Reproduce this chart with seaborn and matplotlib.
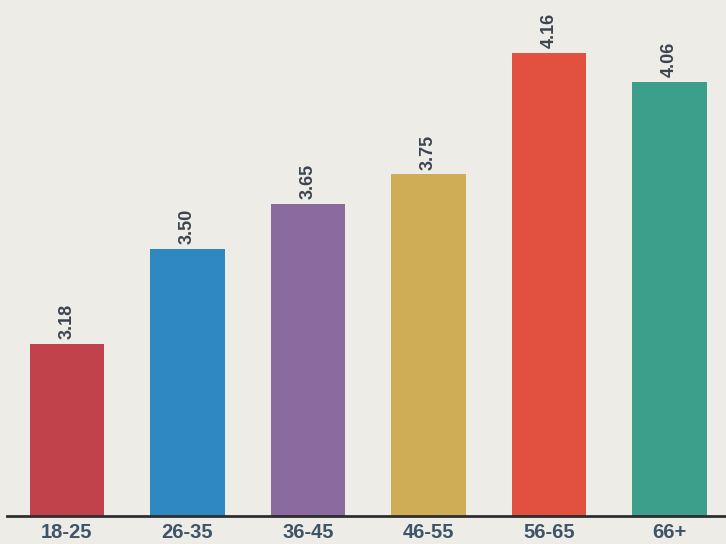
import matplotlib
matplotlib.use("Agg")
import matplotlib.pyplot as plt
import seaborn as sns
import pandas as pd

categories = ["18-25", "26-35", "36-45", "46-55", "56-65", "66+"]
values = [3.18, 3.50, 3.65, 3.75, 4.16, 4.06]
colors = ["#c2424b", "#2e88c2", "#8a6a9f", "#cfad57", "#e2513f", "#3c9f8c"]

df = pd.DataFrame({"age": categories, "value": values})

sns.set_theme(style="white")
plt.rcParams["font.family"] = ["Liberation Sans", "DejaVu Sans"]

bg = "#eeece6"
fig = plt.figure(figsize=(7.26, 5.44), dpi=100, facecolor=bg)
ax = fig.add_axes([0.0092, 0.0515, 0.9908, 0.9485])
ax.set_facecolor(bg)

sns.barplot(data=df, x="age", y="value", hue="age", palette=colors,
            legend=False, width=0.62, saturation=1, linewidth=0, ax=ax)

ax.set_ylim(2.6, 4.337)
ax.set_xlim(-0.5, 5.47)

for i, v in enumerate(values):
    ax.annotate(f"{v:.2f}", xy=(i, v), xytext=(0, 3.5), textcoords="offset points",
                rotation=90, ha="center", va="bottom", fontsize=13,
                fontweight="bold", color="#3b4450")

ax.set_xlabel("")
ax.set_ylabel("")
ax.set_yticks([])
ax.tick_params(axis="x", length=0, pad=5, labelsize=14.5, labelcolor="#3e5468")
for lab in ax.get_xticklabels():
    lab.set_fontweight("bold")

for s in ["top", "right", "left"]:
    ax.spines[s].set_visible(False)
ax.spines["bottom"].set_color("#2e2e2e")
ax.spines["bottom"].set_linewidth(2)

fig.savefig("out.png", dpi=100, facecolor=bg)
